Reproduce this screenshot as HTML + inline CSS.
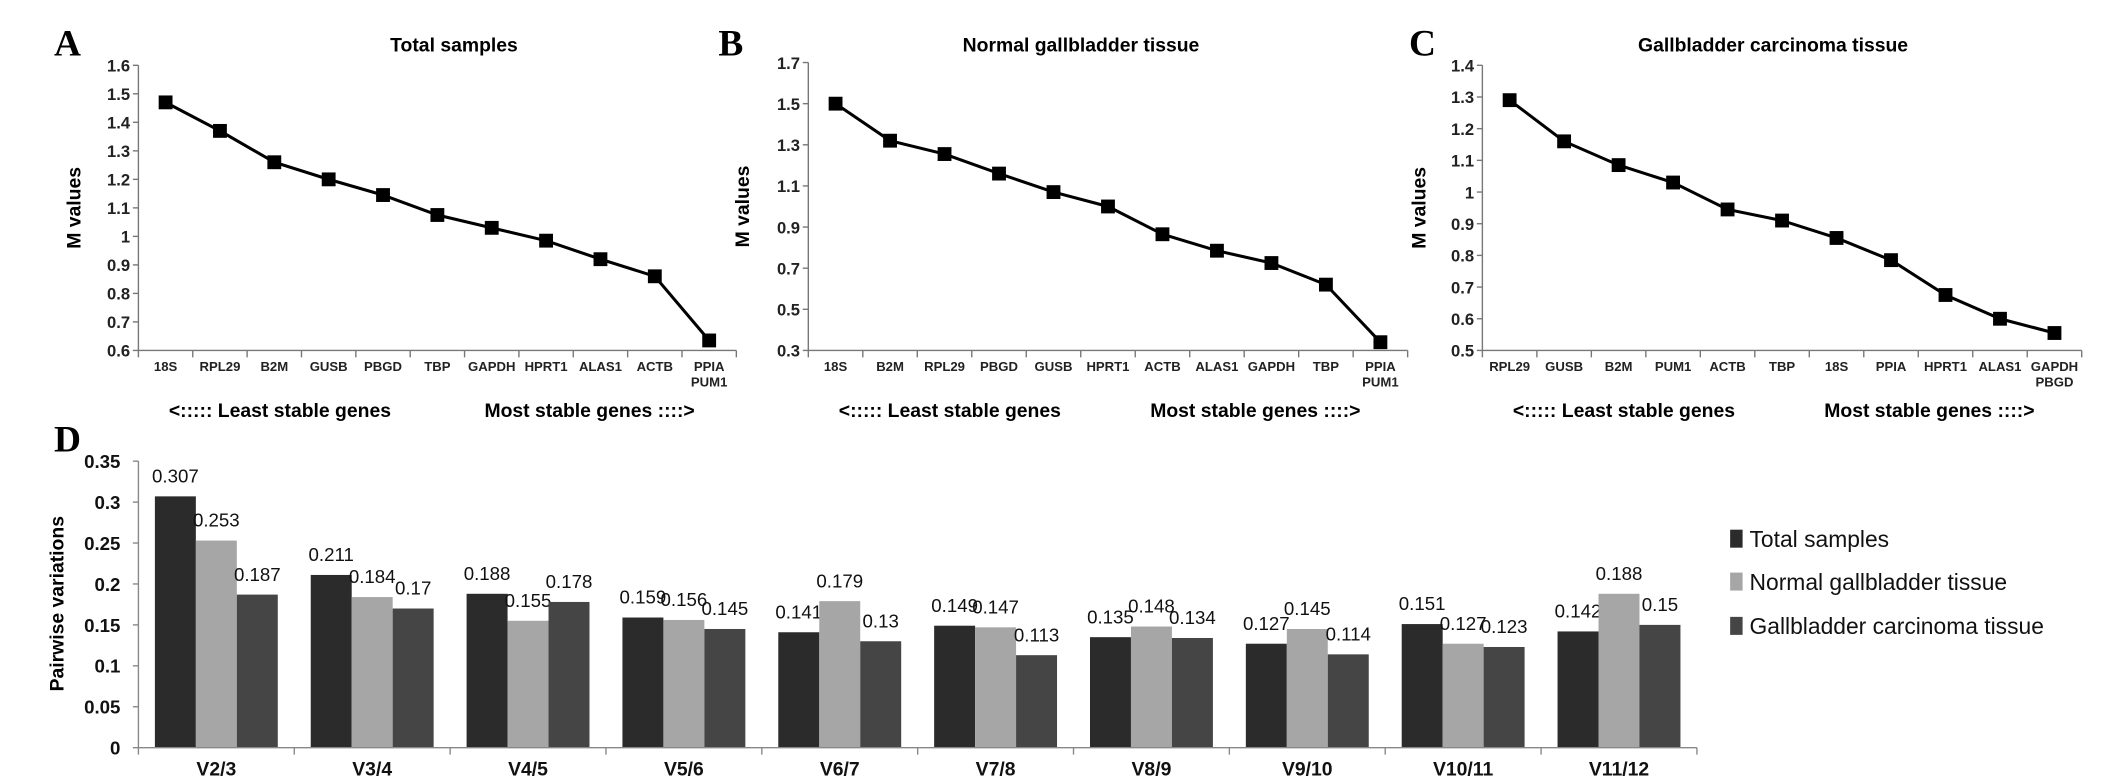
<!DOCTYPE html>
<html><head><meta charset="utf-8"><style>
html,body{margin:0;padding:0;background:#fff;}
svg{display:block;}
</style></head><body>
<svg id="fig" width="2126" height="777" viewBox="0 0 1536 561" xmlns="http://www.w3.org/2000/svg" font-family="Liberation Sans, sans-serif"></svg>
<script>
const genesA = ["18S","RPL29","B2M","GUSB","PBGD","TBP","GAPDH","HPRT1","ALAS1","ACTB","PPIA|PUM1"];
const valuesA = [1.47,1.37,1.26,1.20,1.145,1.075,1.03,0.985,0.92,0.86,0.635];
const ticksA = [0.6,0.7,0.8,0.9,1,1.1,1.2,1.3,1.4,1.5,1.6];
const genesB = ["18S","B2M","RPL29","PBGD","GUSB","HPRT1","ACTB","ALAS1","GAPDH","TBP","PPIA|PUM1"];
const valuesB = [1.50,1.32,1.255,1.16,1.07,1.0,0.865,0.785,0.725,0.62,0.34];
const ticksB = [0.3,0.5,0.7,0.9,1.1,1.3,1.5,1.7];
const genesC = ["RPL29","GUSB","B2M","PUM1","ACTB","TBP","18S","PPIA","HPRT1","ALAS1","GAPDH|PBGD"];
const valuesC = [1.29,1.16,1.085,1.03,0.945,0.91,0.855,0.785,0.675,0.60,0.555];
const ticksC = [0.5,0.6,0.7,0.8,0.9,1,1.1,1.2,1.3,1.4];
const pairCats = ["V2/3","V3/4","V4/5","V5/6","V6/7","V7/8","V8/9","V9/10","V10/11","V11/12"];
const pairTotal = [0.307,0.211,0.188,0.159,0.141,0.149,0.135,0.127,0.151,0.142];
const pairNormal = [0.253,0.184,0.155,0.156,0.179,0.147,0.148,0.145,0.127,0.188];
const pairCarc = [0.187,0.17,0.178,0.145,0.13,0.113,0.134,0.114,0.123,0.15];
const pairTicks = [0,0.05,0.1,0.15,0.2,0.25,0.3,0.35];
const seriesNames = ["Total samples","Normal gallbladder tissue","Gallbladder carcinoma tissue"];

const NS="http://www.w3.org/2000/svg";
const svg=document.getElementById('fig');
function mk(tag,attrs,parent,txt){const e=document.createElementNS(NS,tag);for(const k in attrs)e.setAttribute(k,attrs[k]);if(txt!==undefined)e.textContent=txt;(parent||svg).appendChild(e);return e;}
const SERIF='font-family:"Liberation Serif",serif;font-weight:bold;font-size:27px';

function linePanel(cfg){
  const g=mk('g',{});
  
  
  const x0=cfg.x0,x1=cfg.x1,yTop=cfg.yTop,yBot=cfg.yBot;
  const tmin=cfg.ticks[0],tmax=cfg.ticks[cfg.ticks.length-1];
  const ys=v=>yBot-(v-tmin)/(tmax-tmin)*(yBot-yTop);
  const band=(x1-x0)/cfg.genes.length;
  const xs=i=>x0+band*(i+0.5);
  const L=mk('text',{x:cfg.letterX,y:40,style:SERIF},g,cfg.letter);
  
  const T=mk('text',{x:cfg.titleX,y:37,'text-anchor':'middle','font-weight':'bold','font-size':14},g,cfg.title);
  
  const Y=mk('text',{x:0,y:0,'text-anchor':'middle','font-weight':'bold','font-size':14,transform:`translate(${cfg.ylabX},${(yTop+yBot)/2}) rotate(-90)`},g,'M values');
  
  const ax=mk('path',{d:`M${x0},${yTop}V${yBot}H${x1}`,stroke:'#777',fill:'none','stroke-width':1},g);
  
  cfg.ticks.forEach(t=>{
    mk('line',{x1:x0-4,x2:x0,y1:ys(t),y2:ys(t),stroke:'#777'},g);
    const tl=mk('text',{x:x0-6,y:ys(t)+4.5,'text-anchor':'end','font-weight':'bold','font-size':12,fill:'#222'},g,String(t));
    
  });
  for(let i=0;i<=cfg.genes.length;i++) mk('line',{x1:x0+band*i,x2:x0+band*i,y1:yBot,y2:yBot+5,stroke:'#777'},g);
  cfg.genes.forEach((n,i)=>{
    n.split('|').forEach((p,j)=>{
      const tl=mk('text',{x:xs(i),y:yBot+15+j*11,'text-anchor':'middle','font-weight':'bold','font-size':9.5,fill:'#222'},g,p);
      
    });
  });
  const pts=cfg.values.map((v,i)=>xs(i)+','+ys(v)).join(' ');
  const pl=mk('polyline',{points:pts,fill:'none',stroke:'#000','stroke-width':2.2},g);
  
  cfg.values.forEach((v,i)=>{
    const r=mk('rect',{x:xs(i)-5,y:ys(v)-5,width:10,height:10,fill:'#000'},g);
    
  });
  const a=mk('text',{x:cfg.leastX,y:301,'font-weight':'bold','font-size':14},g,'<:::::  Least stable genes');
  
  const b=mk('text',{x:cfg.mostX,y:301,'font-weight':'bold','font-size':14},g,'Most stable genes ::::>');
  
}
linePanel({name:'panel-a-total-samples',letter:'A',letterX:39,title:'Total samples',titleX:328,x0:100,x1:532,yTop:47,yBot:253,ticks:ticksA,genes:genesA,values:valuesA,ylabX:58,leastX:122,mostX:350});
linePanel({name:'panel-b-normal-tissue',letter:'B',letterX:519,title:'Normal gallbladder tissue',titleX:781,x0:584,x1:1017,yTop:45,yBot:253,ticks:ticksB,genes:genesB,values:valuesB,ylabX:541,leastX:606,mostX:831});
linePanel({name:'panel-c-carcinoma-tissue',letter:'C',letterX:1018,title:'Gallbladder carcinoma tissue',titleX:1281,x0:1071,x1:1504,yTop:47,yBot:253,ticks:ticksC,genes:genesC,values:valuesC,ylabX:1030,leastX:1093,mostX:1318});

(function(){
  const g=mk('g',{});
  
  
  const x0=100,x1=1226,yTop=333,yBot=540;
  const tmax=pairTicks[pairTicks.length-1];
  const ys=v=>yBot-v/tmax*(yBot-yTop);
  const band=(x1-x0)/pairCats.length;
  const bw=29.6;
  const colors=['#2b2b2b','#a6a6a6','#454545'];
  const series=[pairTotal,pairNormal,pairCarc];
  const L=mk('text',{x:39,y:326,style:SERIF},g,'D');
  
  const Y=mk('text',{x:0,y:0,'text-anchor':'middle','font-weight':'bold','font-size':14,transform:`translate(46,436) rotate(-90)`},g,'Pairwise variations');
  
  pairTicks.forEach(t=>{
    mk('line',{x1:x0-4,x2:x0,y1:ys(t),y2:ys(t),stroke:'#888'},g);
    const tl=mk('text',{x:x0-13,y:ys(t)+5,'text-anchor':'end','font-weight':'bold','font-size':13.5,fill:'#111'},g,String(t));
    
  });
  pairCats.forEach((c,i)=>{
    const gx=x0+band*i+(band-3*bw)/2;
    series.forEach((s,k)=>{
      const v=s[i];
      const r=mk('rect',{x:gx+k*bw,y:ys(v),width:bw,height:yBot-ys(v),fill:colors[k]},g);
      
      
      const vl=mk('text',{x:gx+k*bw+bw/2,y:ys(v)-10,'text-anchor':'middle','font-size':13.5,fill:'#111'},g,String(v));
      
    });
    const cl=mk('text',{x:x0+band*(i+0.5),y:560,'text-anchor':'middle','font-weight':'bold','font-size':14,fill:'#111'},g,c);
    
  });
  for(let i=0;i<=pairCats.length;i++) mk('line',{x1:x0+band*i,x2:x0+band*i,y1:yBot,y2:yBot+5,stroke:'#888'},g);
  const ax=mk('path',{d:`M${x0},${yTop}V${yBot}H${x1}`,stroke:'#888',fill:'none'},g);
  
  const ly=[389,420,452];
  seriesNames.forEach((n,k)=>{
    const lg=mk('g',{},g);
    
    
    mk('rect',{x:1250,y:ly[k]-6.5,width:9,height:13,fill:colors[k]},lg);
    mk('text',{x:1264,y:ly[k]+6,'font-size':16.5,fill:'#111'},lg,n);
  });
})();
</script>
</body></html>
